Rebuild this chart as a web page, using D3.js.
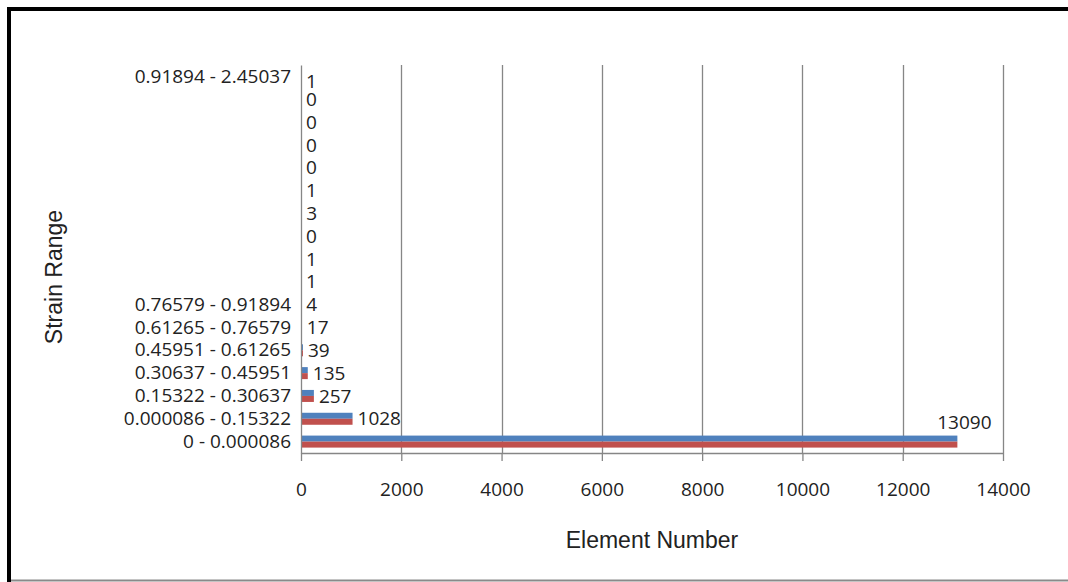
<!DOCTYPE html>
<html>
<head>
<meta charset="utf-8">
<script src="https://cdn.jsdelivr.net/npm/d3@7"></script>
<style>
  html, body { margin: 0; padding: 0; background: #fff; }
  svg { display: block; }
</style>
</head>
<body>
<svg id="chart" width="1068" height="582"></svg>
<script>
// Categories listed bottom to top (as plotted)
const categories = [
  "0 - 0.000086",
  "0.000086 - 0.15322",
  "0.15322 - 0.30637",
  "0.30637 - 0.45951",
  "0.45951 - 0.61265",
  "0.61265 - 0.76579",
  "0.76579 - 0.91894",
  "", "", "", "", "", "", "", "", "",
  "0.91894 - 2.45037"
];
const seriesRed  = [13090, 1028, 257, 135, 39, 17, 4, 1, 1, 0, 3, 1, 0, 0, 0, 0, 1];
const seriesBlue = [13090, 1028, 257, 135, 39, 17, 4, 1, 1, 0, 3, 1, 0, 0, 0, 0, 1];
const xTicks = [0, 2000, 4000, 6000, 8000, 10000, 12000, 14000];
const xTitle = "Element Number";
const yTitle = "Strain Range";

(function () {
const svg = d3.select("#chart");
const W = 1068, H = 582;
const pLeft = 301, pRight = 1003, pTop = 65, pBottom = 453;
const labelFont = "'Open Sans', sans-serif";
const labelSize = "19px";
const gridColor = "#868686";

// frame
svg.append("rect").attr("x", 0).attr("y", 0).attr("width", W).attr("height", H).attr("fill", "#fff");
svg.append("line").attr("x1", 11).attr("x2", W).attr("y1", 580.5).attr("y2", 580.5)
  .attr("stroke", "#8a8a8a").attr("stroke-width", 2);
svg.append("line").attr("x1", 7).attr("x2", W).attr("y1", 9).attr("y2", 9)
  .attr("stroke", "#000").attr("stroke-width", 4);
svg.append("line").attr("x1", 9).attr("x2", 9).attr("y1", 7).attr("y2", H)
  .attr("stroke", "#000").attr("stroke-width", 4);

const x = d3.scaleLinear().domain([0, 14000]).range([pLeft, pRight]);
const idx = d3.range(categories.length);
const y = d3.scaleBand().domain(idx).range([pBottom, pTop]).paddingInner(0.474).paddingOuter(0.237);
const y1 = d3.scaleBand().domain(["blue", "red"]).range([0, y.bandwidth()]);

// gridlines
svg.append("g").selectAll("line").data(xTicks.filter(d => d > 0)).join("line")
  .attr("x1", d => Math.round(x(d)) + 0.5).attr("x2", d => Math.round(x(d)) + 0.5)
  .attr("y1", pTop).attr("y2", pBottom)
  .attr("stroke", gridColor).attr("stroke-width", 1.3);

// bars
const groups = svg.append("g").selectAll("g").data(idx).join("g")
  .attr("transform", i => `translate(0,${y(i)})`);
groups.append("rect")
  .attr("x", x(0)).attr("y", y1("blue"))
  .attr("width", i => x(seriesBlue[i]) - x(0)).attr("height", y1.bandwidth())
  .attr("fill", "#4f81bd");
groups.append("rect")
  .attr("x", x(0)).attr("y", y1("red"))
  .attr("width", i => x(seriesRed[i]) - x(0)).attr("height", y1.bandwidth())
  .attr("fill", "#c0504d");

// x axis
const xAxis = svg.append("g").attr("transform", `translate(0,${pBottom})`)
  .call(d3.axisBottom(x).tickValues(xTicks).tickFormat(d3.format("d"))
    .tickSize(8).tickSizeOuter(0).tickPadding(22));
xAxis.select(".domain").attr("stroke", gridColor).attr("stroke-width", 1.3);
xAxis.selectAll(".tick line").attr("stroke", gridColor).attr("stroke-width", 1.3);
xAxis.selectAll(".tick text").attr("font-family", labelFont).attr("font-size", labelSize).attr("fill", "#222");

// y axis
const yAxis = svg.append("g").attr("transform", `translate(${pLeft},0)`)
  .call(d3.axisLeft(y).tickFormat(i => categories[i]).tickSize(0).tickPadding(10));
yAxis.select(".domain").attr("stroke", gridColor).attr("stroke-width", 1.3);
yAxis.selectAll(".tick text").attr("font-family", labelFont).attr("font-size", labelSize).attr("fill", "#222");

// data labels
svg.append("g").selectAll("text").data(idx).join("text")
  .attr("font-family", labelFont).attr("font-size", labelSize).attr("fill", "#222")
  .each(function (i) {
    const v = seriesRed[i];
    const cy = y(i) + y.bandwidth() / 2;
    const t = d3.select(this).text(v).attr("dy", "0.35em");
    const w = this.getComputedTextLength();
    const xe = x(v);
    if (xe + 5 + w > pRight) {
      t.attr("x", xe + 7).attr("y", cy - 19).attr("text-anchor", "middle");
    } else {
      t.attr("x", xe + 5).attr("y", Math.max(cy, pTop + 16)).attr("text-anchor", "start");
    }
  });

// axis titles
svg.append("text").attr("x", (pLeft + pRight) / 2).attr("y", 548)
  .attr("text-anchor", "middle").attr("font-family", "'Liberation Sans', Arial, sans-serif")
  .attr("font-size", "23px").attr("fill", "#222").text(xTitle);
svg.append("text").attr("transform", `translate(62,277) rotate(-90)`)
  .attr("text-anchor", "middle").attr("font-family", "'Liberation Sans', Arial, sans-serif")
  .attr("font-size", "23px").attr("fill", "#222").text(yTitle);
})();
</script>
</body>
</html>
